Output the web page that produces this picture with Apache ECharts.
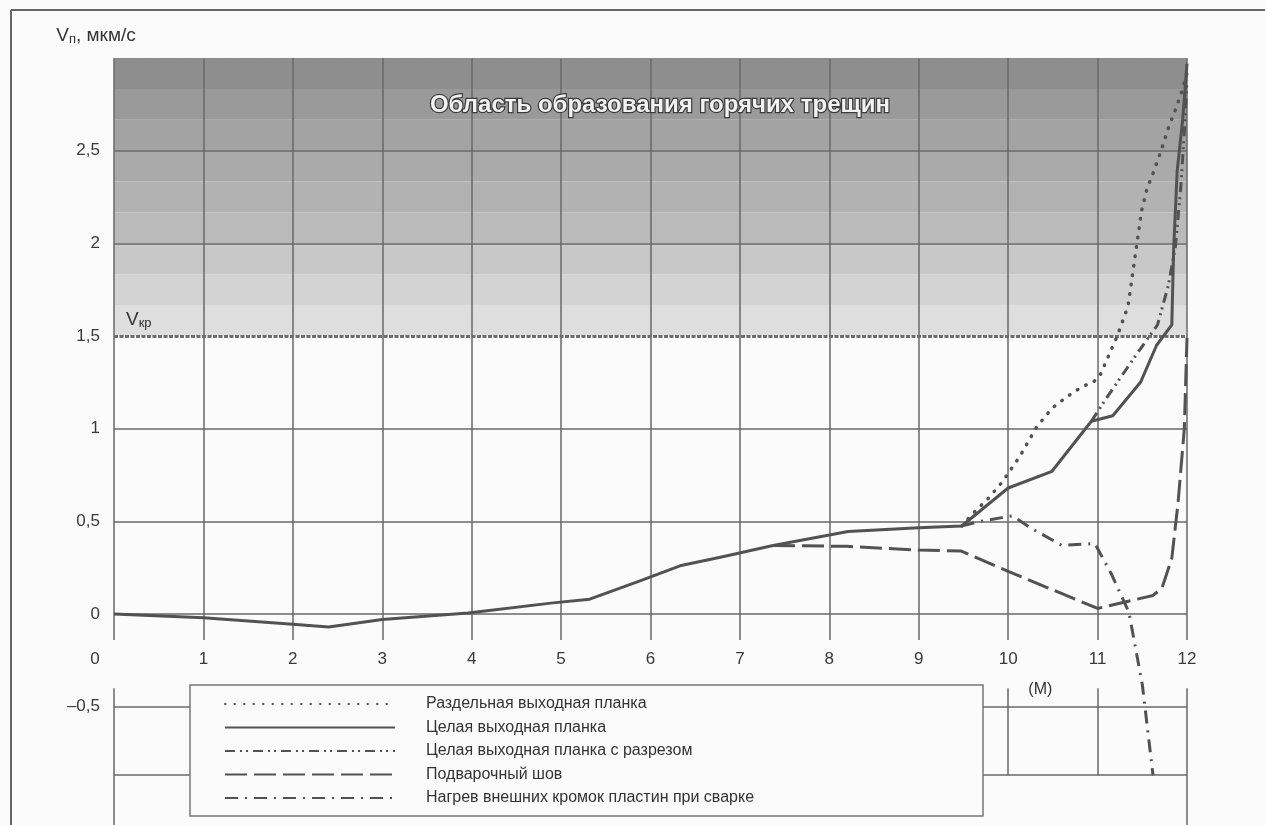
<!DOCTYPE html>
<html>
<head>
<meta charset="utf-8">
<script src="https://cdn.jsdelivr.net/npm/echarts@6/dist/echarts.min.js"></script>
<style>
  html, body { margin: 0; padding: 0; background: #fbfbfb; }
  #chart { width: 1265px; height: 825px; }
</style>
</head>
<body>
<div id="chart"></div>
<script>
// Axis ticks (distance along the plate) and labelled range of the velocity axis
const xTicks = [0, 1, 2, 3, 4, 5, 6, 7, 8, 9, 10, 11, 12];
const yLabelMin = -0.5;
const yLabelMax = 2.5;
const gridRows = [-0.87, -0.5, 0, 0.5, 1, 2, 2.5];
const vCritical = 1.5;

// Hot-crack zone: shaded bands from V_kr up to the top of the scale
const zoneBounds = [1.5, 1.667, 1.833, 2.0, 2.167, 2.333, 2.5, 2.667, 2.833, 3.0];
const zoneShades = ['#dedede', '#d3d3d3', '#c8c8c8', '#bababa', '#b2b2b2', '#aaaaaa', '#a3a3a3', '#9a9a9a', '#8e8e8e'];
const zoneTitle = 'Область образования горячих трещин';

const seriesNames = [
  'Раздельная выходная планка',
  'Целая выходная планка',
  'Целая выходная планка с разрезом',
  'Подварочный шов',
  'Нагрев внешних кромок пластин при сварке'
];

// [x, V] pairs for each technique
const separatePlate = [[9.48,0.475],[9.6,0.54],[9.77,0.62],[9.93,0.71],[10.13,0.85],[10.32,1.01],[10.49,1.11],[10.65,1.17],[10.84,1.23],[10.95,1.25],[11.03,1.29],[11.12,1.39],[11.22,1.5],[11.34,1.66],[11.39,1.83],[11.44,2.0],[11.49,2.17],[11.55,2.29],[11.63,2.39],[11.71,2.5],[11.79,2.62],[11.87,2.72],[11.95,2.83],[12.0,2.92]];
const wholePlate = [[0,0],[1,-0.02],[2,-0.055],[2.4,-0.07],[3,-0.03],[3.96,0.005],[4.91,0.06],[5.32,0.08],[5.86,0.175],[6.33,0.26],[6.82,0.31],[7.37,0.37],[8.21,0.445],[9.0,0.465],[9.48,0.475],[10.0,0.68],[10.49,0.77],[10.93,1.04],[11.17,1.07],[11.48,1.25],[11.66,1.45],[11.83,1.56],[11.85,1.96],[11.89,2.39],[11.95,2.66],[12.0,2.97]];
const wholePlateCut = [[10.93,1.04],[11.12,1.18],[11.42,1.39],[11.67,1.56],[11.79,1.77],[11.87,1.98],[11.93,2.3],[11.97,2.6],[12.0,2.88]];
const backingWeld = [[7.37,0.37],[8.2,0.365],[9.0,0.345],[9.47,0.34],[10.0,0.23],[10.5,0.13],[11.0,0.03],[11.62,0.1],[11.72,0.14],[11.83,0.3],[11.9,0.6],[11.97,1.0],[12.0,1.49]];
const edgeHeating = [[9.48,0.475],[9.69,0.5],[9.93,0.52],[10.05,0.53],[10.25,0.465],[10.6,0.37],[10.97,0.38],[11.15,0.22],[11.35,0.01],[11.5,-0.38],[11.62,-0.87]];

const FONT = "'Liberation Sans', Arial, sans-serif";
const INK = '#525252';
const GRID = '#686868';

// Plot frame: 3.0 at the top, -1.5 below the page edge
const PLOT_TOP = 58;
const PLOT_H = 834;
const Y_MIN = -1.5, Y_MAX = 3;
const zeroOffset = PLOT_H * (0 - Y_MIN) / (Y_MAX - Y_MIN);

const chart = echarts.init(document.getElementById('chart'), null, { renderer: 'canvas' });

// Grid lines: full-width rows, columns broken at the tick-label row
const gridLines = [];
gridRows.forEach(y => {
  gridLines.push([{ coord: [0, y], lineStyle: { color: GRID, width: 1.5, type: 'solid' } }, { coord: [12, y] }]);
});
xTicks.forEach(x => {
  const edge = x === xTicks[0] || x === xTicks[xTicks.length - 1];
  gridLines.push([{ coord: [x, 3], lineStyle: { color: GRID, width: 1.5, type: 'solid' } }, { coord: [x, -0.14] }]);
  gridLines.push([{ coord: [x, -0.4], lineStyle: { color: GRID, width: 1.5, type: 'solid' } }, { coord: [x, edge ? Y_MIN : -0.87] }]);
});
gridLines.push([{ coord: [0, 3], lineStyle: { color: '#8a8a8a', width: 1.2, type: [3, 2] } }, { coord: [12, 3] }]);

const zoneAreas = zoneShades.map((c, i) => [
  { xAxis: 0, yAxis: zoneBounds[i], itemStyle: { color: c } },
  { xAxis: 12, yAxis: zoneBounds[i + 1] }
]);

function curve(name, data, dash, width, cap) {
  return {
    name, type: 'line', data, symbol: 'none', z: 5, clip: false, silent: true,
    itemStyle: { color: INK },
    lineStyle: { color: INK, width, type: dash, cap: cap || 'butt', join: 'round' }
  };
}

const fmtNum = v => String(v).replace('.', ',').replace('-', '–');

chart.setOption({
  animation: false,
  backgroundColor: '#fbfbfb',
  textStyle: { fontFamily: FONT },
  title: {
    text: zoneTitle,
    left: 655, top: 88, textAlign: 'center',
    textStyle: {
      fontFamily: FONT, fontSize: 24, fontWeight: 'bold', color: '#f2f2f2',
      textBorderColor: '#3c3c3c', textBorderWidth: 2.4
    }
  },
  grid: { left: 114, top: PLOT_TOP, width: 1073, height: PLOT_H, containLabel: false, outerBoundsMode: 'none' },
  xAxis: {
    type: 'value', min: 0, max: 12, interval: 1,
    position: 'bottom', offset: -zeroOffset,
    axisLine: { show: false, onZero: false },
    axisTick: { show: false },
    splitLine: { show: false },
    axisLabel: {
      margin: 37, fontSize: 17, color: '#3a3a3a', fontFamily: FONT,
      formatter: v => v === 0 ? '{z|0}' : String(v),
      rich: { z: { fontSize: 17, color: '#3a3a3a', fontFamily: FONT, padding: [0, 38, 0, 0] } }
    }
  },
  yAxis: {
    type: 'value', min: Y_MIN, max: Y_MAX, interval: 0.5,
    name: '{v|V}{s|п}{v|, мкм/с}',
    nameLocation: 'end', nameGap: 12,
    nameTextStyle: {
      align: 'center', padding: [0, 36, 0, 0],
      rich: {
        v: { fontSize: 19, color: '#333', fontFamily: FONT },
        s: { fontSize: 13, color: '#333', fontFamily: FONT, padding: [8, 0, 0, 0] }
      }
    },
    axisLine: { show: false, onZero: false },
    axisTick: { show: false },
    splitLine: { show: false },
    axisLabel: {
      margin: 14, fontSize: 17, color: '#3a3a3a', fontFamily: FONT,
      formatter: v => (v >= yLabelMin - 1e-9 && v <= yLabelMax + 1e-9) ? fmtNum(v) : ''
    }
  },
  legend: {
    data: seriesNames, orient: 'vertical', left: 224, top: 696,
    itemWidth: 170, itemHeight: 14, itemGap: 7.5, padding: 0,
    selectedMode: false, z: 20,
    itemStyle: { opacity: 0 },
    textStyle: { fontSize: 16, color: '#333', fontFamily: FONT, lineHeight: 14, padding: [0, 0, 0, 26] }
  },
  graphic: [
    { type: 'rect', z: 15, shape: { x: 190, y: 685, width: 793, height: 131 },
      style: { fill: '#fbfbfb', stroke: '#777', lineWidth: 1.5 } },
    { type: 'line', z: 15, shape: { x1: 11, y1: 10, x2: 11, y2: 825 }, style: { stroke: '#666', lineWidth: 2 } },
    { type: 'line', z: 15, shape: { x1: 11, y1: 10, x2: 1265, y2: 10 }, style: { stroke: '#666', lineWidth: 2 } }
  ],
  series: [
    {
      name: 'zone', type: 'line', data: [], z: 1, silent: true,
      markArea: { silent: true, data: zoneAreas },
      markLine: {
        silent: true, symbol: ['none', 'none'], label: { show: false },
        data: gridLines
      }
    },
    {
      name: 'vkr', type: 'line', data: [], z: 3, silent: true,
      markLine: {
        silent: true, symbol: ['none', 'none'],
        lineStyle: { color: '#6e6e6e', width: 3, type: [4, 1.5] },
        label: {
          show: true, position: 'insideStartTop', distance: [12, 6],
          formatter: '{v|V}{s|кр}',
          rich: {
            v: { fontSize: 19, color: '#333', fontFamily: FONT },
            s: { fontSize: 13, color: '#333', fontFamily: FONT, padding: [8, 0, 0, 0] }
          }
        },
        data: [[{ coord: [0, vCritical] }, { coord: [12, vCritical] }]]
      },
      markPoint: {
        silent: true, symbol: 'circle', symbolSize: 1,
        itemStyle: { color: 'rgba(0,0,0,0)' },
        label: { show: true, position: 'inside', formatter: '(M)', fontSize: 16, color: '#333', fontFamily: FONT },
        data: [{ coord: [10.36, -0.41] }]
      }
    },
    curve(seriesNames[0], separatePlate, [0.5, 9], 3.5, 'round'),
    curve(seriesNames[1], wholePlate, 'solid', 3),
    curve(seriesNames[2], wholePlateCut, [10, 5, 2, 4, 2, 5], 3),
    curve(seriesNames[3], backingWeld, [22, 7], 3),
    curve(seriesNames[4], edgeHeating, [13, 7, 2, 7], 3)
  ]
});
</script>
</body>
</html>
